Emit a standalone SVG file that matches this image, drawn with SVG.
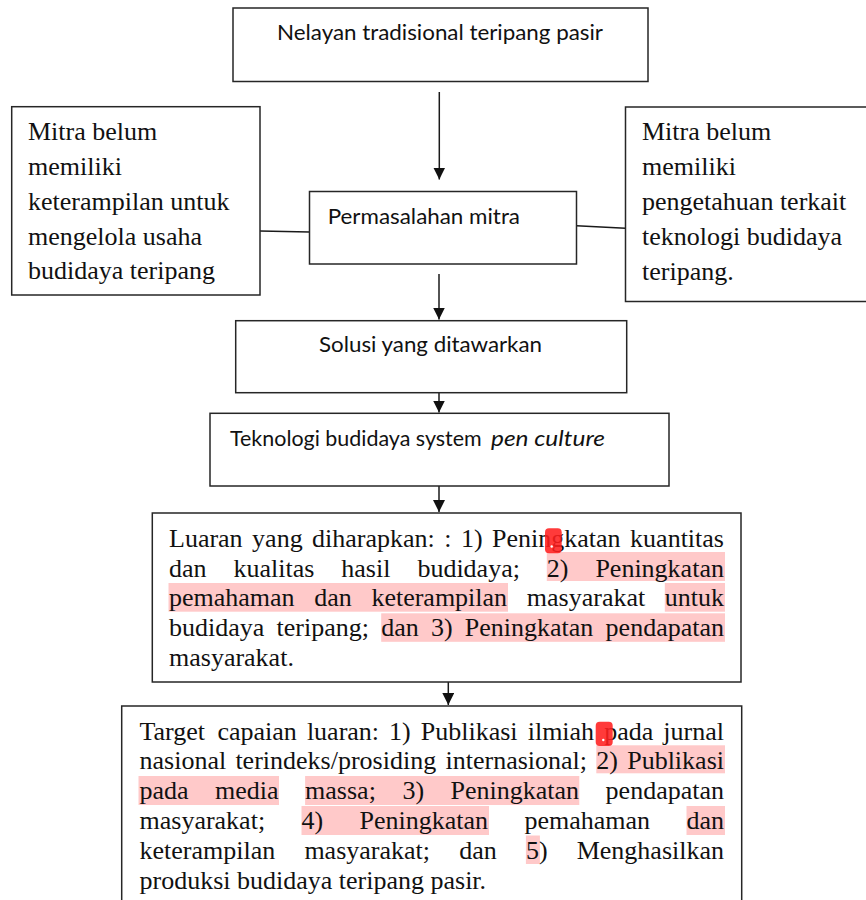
<svg xmlns="http://www.w3.org/2000/svg" width="866" height="900" viewBox="0 0 866 900">
<style>
.box{fill:#fff;stroke:#262626;stroke-width:1.5}
.sans{font-family:Lato,"Open Sans","Noto Sans",sans-serif;font-size:21px;fill:#111}
.ser{font-family:"Liberation Serif","Times New Roman",serif;font-size:26px;fill:#111}
.hl{fill:#ffc9c9}
.mk{fill:#ff1f1f;opacity:0.88}
.ln{stroke:#1a1a1a;stroke-width:1.5;fill:none}
</style>
<defs>
<marker id="ah" markerUnits="userSpaceOnUse" markerWidth="12" markerHeight="12" refX="12" refY="6" orient="auto" viewBox="0 0 12 12">
<path d="M0,0 L12,6 L0,12 Z" fill="#111"/>
</marker>
</defs>

<g id="connectors">
<line class="ln" x1="439.3" y1="92" x2="439.3" y2="179.5" marker-end="url(#ah)"/>
<line class="ln" x1="439" y1="274" x2="439" y2="319.5" marker-end="url(#ah)"/>
<line class="ln" x1="439" y1="393" x2="439" y2="412.5" marker-end="url(#ah)"/>
<line class="ln" x1="439" y1="486" x2="439" y2="512" marker-end="url(#ah)"/>
<line class="ln" x1="448.3" y1="682" x2="448.3" y2="705" marker-end="url(#ah)"/>
<line class="ln" x1="260" y1="231" x2="309.5" y2="232"/>
<line class="ln" x1="576.5" y1="225.7" x2="625.5" y2="228.3"/>
</g>

<g id="nelayan">
<rect class="box" x="233" y="8" width="415" height="73.5"/>
<text class="sans" x="277" y="40" textLength="326" lengthAdjust="spacingAndGlyphs">Nelayan tradisional teripang pasir</text>
</g>

<g id="mitra-keterampilan">
<rect class="box" x="11.7" y="106.7" width="248.3" height="188.3"/>
<text class="ser" x="28" y="140">Mitra belum</text>
<text class="ser" x="28" y="175">memiliki</text>
<text class="ser" x="28" y="210">keterampilan untuk</text>
<text class="ser" x="28" y="244.5">mengelola usaha</text>
<text class="ser" x="28" y="279">budidaya teripang</text>
</g>

<g id="permasalahan">
<rect class="box" x="309.5" y="191.5" width="267" height="72.5"/>
<text class="sans" x="327.7" y="223.5" textLength="192.3" lengthAdjust="spacingAndGlyphs">Permasalahan mitra</text>
</g>

<g id="mitra-pengetahuan">
<rect class="box" x="625.5" y="107" width="245" height="194.5"/>
<text class="ser" x="642" y="140">Mitra belum</text>
<text class="ser" x="642" y="175">memiliki</text>
<text class="ser" x="642" y="210">pengetahuan terkait</text>
<text class="ser" x="642" y="245">teknologi budidaya</text>
<text class="ser" x="642" y="280">teripang.</text>
</g>

<g id="solusi">
<rect class="box" x="235.7" y="320.7" width="391" height="72"/>
<text class="sans" x="319" y="352" textLength="223" lengthAdjust="spacingAndGlyphs">Solusi yang ditawarkan</text>
</g>

<g id="teknologi">
<rect class="box" x="210" y="413.3" width="459" height="72.7"/>
<text class="sans" y="445.5"><tspan x="230" textLength="251.7" lengthAdjust="spacingAndGlyphs">Teknologi budidaya system</tspan><tspan x="491" font-style="italic" textLength="114" lengthAdjust="spacingAndGlyphs">pen culture</tspan></text>
</g>

<g id="luaran">
<rect class="box" x="152.3" y="513" width="588.7" height="169"/>
<rect class="hl" x="546.8" y="552" width="178.2" height="29"/>
<rect class="hl" x="168.5" y="583" width="339.5" height="28.7"/>
<rect class="hl" x="664.8" y="583" width="60.2" height="28.7"/>
<rect class="hl" x="381.2" y="613.3" width="343.8" height="28.5"/>
<text class="ser" y="547"><tspan x="169">Luaran</tspan><tspan x="252.1">yang</tspan><tspan x="312.1">diharapkan:</tspan><tspan x="444.3">:</tspan><tspan x="461">1)</tspan><tspan x="492.1">Peningkatan</tspan><tspan x="630.1">kuantitas</tspan></text>
<text class="ser" y="576.7"><tspan x="169">dan</tspan><tspan x="233.5">kualitas</tspan><tspan x="341.3">hasil</tspan><tspan x="417.4">budidaya;</tspan><tspan x="546.8">2)</tspan><tspan x="595.4">Peningkatan</tspan></text>
<text class="ser" y="606.4"><tspan x="169">pemahaman</tspan><tspan x="314.2">dan</tspan><tspan x="371.4">keterampilan</tspan><tspan x="526.8">masyarakat</tspan><tspan x="664.8">untuk</tspan></text>
<text class="ser" y="636.1"><tspan x="169">budidaya</tspan><tspan x="276.5">teripang;</tspan><tspan x="381.2">dan</tspan><tspan x="431">3)</tspan><tspan x="464.8">Peningkatan</tspan><tspan x="605.6">pendapatan</tspan></text>
<text class="ser" x="169" y="665.8">masyarakat.</text>
<rect class="mk" x="545" y="528.3" width="16.7" height="25" rx="4"/>
<circle cx="551.7" cy="546.5" r="1.2" fill="#fff"/>
</g>

<g id="target">
<rect class="box" x="121.7" y="706" width="620" height="210"/>
<rect class="hl" x="596.3" y="745.3" width="128.7" height="28"/>
<rect class="hl" x="138.5" y="776" width="140.5" height="29"/>
<rect class="hl" x="305.1" y="776" width="274.2" height="29"/>
<rect class="hl" x="301.5" y="806" width="187.5" height="29"/>
<rect class="hl" x="686.5" y="806" width="38.5" height="29"/>
<rect class="hl" x="525.9" y="835.5" width="14" height="28.5"/>
<text class="ser" y="739.5"><tspan x="139.5">Target</tspan><tspan x="217.4">capaian</tspan><tspan x="306.9">luaran:</tspan><tspan x="389.1">1)</tspan><tspan x="420.8">Publikasi</tspan><tspan x="527.7">ilmiah</tspan><tspan x="604.2">pada</tspan><tspan x="663.3">jurnal</tspan></text>
<text class="ser" y="769.4"><tspan x="139.5">nasional</tspan><tspan x="235.4">terindeks/prosiding</tspan><tspan x="445.5">internasional;</tspan><tspan x="596.3">2)</tspan><tspan x="627.2">Publikasi</tspan></text>
<text class="ser" y="799.3"><tspan x="139.5">pada</tspan><tspan x="215.1">media</tspan><tspan x="305.1">massa;</tspan><tspan x="402.4">3)</tspan><tspan x="450.6">Peningkatan</tspan><tspan x="605.6">pendapatan</tspan></text>
<text class="ser" y="829.2"><tspan x="139.5">masyarakat;</tspan><tspan x="301.5">4)</tspan><tspan x="359.5">Peningkatan</tspan><tspan x="524.5">pemahaman</tspan><tspan x="686.5">dan</tspan></text>
<text class="ser" y="859.1"><tspan x="139.5">keterampilan</tspan><tspan x="304.4">masyarakat;</tspan><tspan x="459.2">dan</tspan><tspan x="525.9">5)</tspan><tspan x="576.7">Menghasilkan</tspan></text>
<text class="ser" x="139.5" y="889">produksi budidaya teripang pasir.</text>
<rect class="mk" x="595.7" y="721.7" width="17" height="24.3" rx="4"/>
<circle cx="603.3" cy="740" r="1.2" fill="#fff"/>
</g>
</svg>
